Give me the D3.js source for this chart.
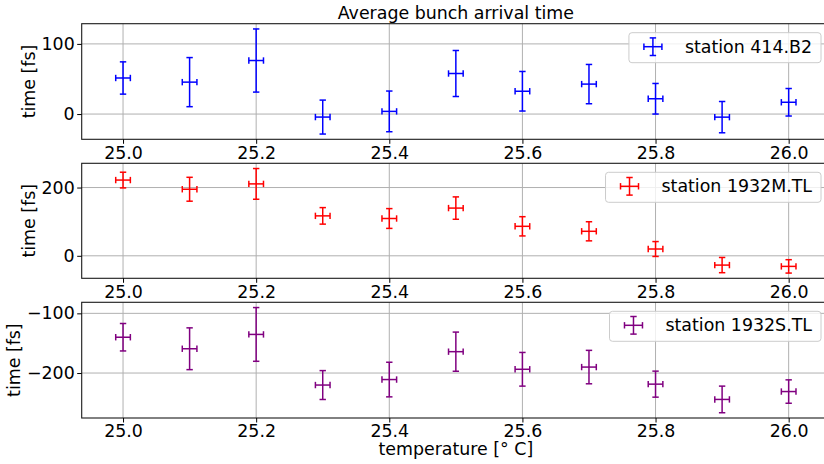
<!DOCTYPE html>
<html>
<head>
<meta charset="utf-8">
<script src="https://cdn.jsdelivr.net/npm/d3@7"></script>
<style>
  html, body { margin: 0; padding: 0; background: #fff; }
  svg { display: block; font-family: "DejaVu Sans", sans-serif; }
</style>
</head>
<body>
<svg id="chart" width="824" height="464"></svg>
<script>
// Temperature set points [°C] and their uncertainty
const temperature = [25.0, 25.1, 25.2, 25.3, 25.4, 25.5, 25.6, 25.7, 25.8, 25.9, 26.0];
const temperatureErr = 0.011;

// Average bunch arrival time per station [fs]
const station414B2 = [51.4, 45.5, 76.3, -4.3, 3.8, 57.8, 32.5, 42.7, 21.8, -4.4, 16.8];
const station1932M = [221.9, 195.0, 210.7, 117.0, 109.3, 139.8, 86.4, 71.8, 19.9, -27.2, -31.0];
const station1932S = [-140.0, -159.3, -135.3, -220.1, -210.9, -164.2, -193.7, -190.0, -218.6, -244.2, -231.0];

// Standard error of the arrival time [fs]
const arrivalErr = [23, 35, 45, 24.2, 29, 32.8, 28.2, 28, 21.8, 22.3, 19.6];

// Tick labels
const xTicks = [25.0, 25.2, 25.4, 25.6, 25.8, 26.0];
const yTicks414B2 = [0, 100];
const yTicks1932M = [0, 200];
const yTicks1932S = [-200, -100];

const panels = [
  { name: "station 414.B2",  values: station414B2, ticks: yTicks414B2, color: "#0000ff", top: 23.7,  bottom: 139.3 },
  { name: "station 1932M.TL", values: station1932M, ticks: yTicks1932M, color: "#ff0000", top: 163.3, bottom: 278.3 },
  { name: "station 1932S.TL", values: station1932S, ticks: yTicks1932S, color: "#800080", top: 302.3, bottom: 418.0 }
];

const svg = d3.select("#chart");
svg.append("rect").attr("width", 824).attr("height", 464).attr("fill", "#fff");

const left = 81.7, right = 830;
const fontSize = 17.4;

// autoscale with a 5% margin, like the plotting default
function padded(lo, hi) {
  const m = (hi - lo) * 0.05;
  return [lo - m, hi + m];
}

const x = d3.scaleLinear()
  .domain(padded(d3.min(temperature) - temperatureErr, d3.max(temperature) + temperatureErr))
  .range([left, right]);

const fmtX = d3.format(".1f");
const fmtY = d3.format("d");

panels.forEach(p => {
  const lo = d3.min(p.values, (v, i) => v - arrivalErr[i]);
  const hi = d3.max(p.values, (v, i) => v + arrivalErr[i]);
  const y = d3.scaleLinear().domain(padded(lo, hi)).range([p.bottom, p.top]);

  const g = svg.append("g");

  // grid
  g.append("g").selectAll("line").data(xTicks).join("line")
    .attr("x1", d => x(d)).attr("x2", d => x(d))
    .attr("y1", p.top).attr("y2", p.bottom)
    .attr("stroke", "#b0b0b0").attr("stroke-width", 1);
  g.append("g").selectAll("line").data(p.ticks).join("line")
    .attr("x1", left).attr("x2", right)
    .attr("y1", d => y(d)).attr("y2", d => y(d))
    .attr("stroke", "#b0b0b0").attr("stroke-width", 1);

  // error bars
  const pts = temperature.map((t, i) => ({ t, v: p.values[i], e: arrivalErr[i] }));
  const eb = g.append("g").attr("stroke", p.color).attr("stroke-width", 1.5).attr("fill", "none");
  const cap = 3.2;
  pts.forEach(d => {
    const cx = x(d.t), cy = y(d.v);
    const y0 = y(d.v - d.e), y1 = y(d.v + d.e);
    const x0 = x(d.t - temperatureErr), x1 = x(d.t + temperatureErr);
    eb.append("line").attr("x1", cx).attr("x2", cx).attr("y1", y0).attr("y2", y1);
    eb.append("line").attr("x1", x0).attr("x2", x1).attr("y1", cy).attr("y2", cy);
    eb.append("line").attr("x1", cx - cap).attr("x2", cx + cap).attr("y1", y0).attr("y2", y0);
    eb.append("line").attr("x1", cx - cap).attr("x2", cx + cap).attr("y1", y1).attr("y2", y1);
    eb.append("line").attr("x1", x0).attr("x2", x0).attr("y1", cy - cap).attr("y2", cy + cap);
    eb.append("line").attr("x1", x1).attr("x2", x1).attr("y1", cy - cap).attr("y2", cy + cap);
  });

  // frame
  g.append("rect")
    .attr("x", left).attr("y", p.top)
    .attr("width", right - left).attr("height", p.bottom - p.top)
    .attr("fill", "none").attr("stroke", "#1a1a1a").attr("stroke-width", 1.1);

  // axes
  const xAxis = g.append("g").attr("transform", `translate(0,${p.bottom})`)
    .call(d3.axisBottom(x).tickValues(xTicks).tickFormat(fmtX).tickSizeInner(4.5).tickSizeOuter(0).tickPadding(2.5));
  const yAxis = g.append("g").attr("transform", `translate(${left},0)`)
    .call(d3.axisLeft(y).tickValues(p.ticks).tickFormat(fmtY).tickSizeInner(4.5).tickSizeOuter(0).tickPadding(2.5));
  [xAxis, yAxis].forEach(a => {
    a.select(".domain").remove();
    a.selectAll("text").attr("font-family", "DejaVu Sans").attr("font-size", fontSize).attr("fill", "#000");
    a.selectAll("line").attr("stroke", "#000").attr("stroke-width", 1);
  });

  // y label placed just left of the tick labels
  const tb = yAxis.node().getBBox();
  const labelX = left + tb.x - 6.5;
  g.append("text")
    .attr("transform", `translate(${labelX},${(p.top + p.bottom) / 2}) rotate(-90)`)
    .attr("text-anchor", "middle")
    .attr("font-size", fontSize).attr("fill", "#000")
    .text("time [fs]");

  // legend
  const lg = g.append("g");
  const boxTop = p.top + 9;
  const box = lg.append("rect")
    .attr("y", boxTop).attr("height", 30).attr("rx", 3)
    .attr("fill", "#fff").attr("fill-opacity", 0.8)
    .attr("stroke", "#cccccc").attr("stroke-width", 1);
  const label = lg.append("text")
    .attr("y", boxTop + 19.8)
    .attr("font-size", fontSize).attr("fill", "#000")
    .text(p.name);
  const tw = label.node().getComputedTextLength();
  const boxRight = right - 9;
  const boxLeft = boxRight - (56 + tw + 9);
  box.attr("x", boxLeft).attr("width", boxRight - boxLeft);
  label.attr("x", boxLeft + 56);
  const mx = boxLeft + 24, my = boxTop + 14, hw = 9, hh = 8.8;
  const mk = lg.append("g").attr("stroke", p.color).attr("stroke-width", 1.5);
  mk.append("line").attr("x1", mx).attr("x2", mx).attr("y1", my - hh).attr("y2", my + hh);
  mk.append("line").attr("x1", mx - hw).attr("x2", mx + hw).attr("y1", my).attr("y2", my);
  mk.append("line").attr("x1", mx - cap).attr("x2", mx + cap).attr("y1", my - hh).attr("y2", my - hh);
  mk.append("line").attr("x1", mx - cap).attr("x2", mx + cap).attr("y1", my + hh).attr("y2", my + hh);
  mk.append("line").attr("x1", mx - hw).attr("x2", mx - hw).attr("y1", my - cap).attr("y2", my + cap);
  mk.append("line").attr("x1", mx + hw).attr("x2", mx + hw).attr("y1", my - cap).attr("y2", my + cap);
});

// title and shared x label
svg.append("text")
  .attr("x", (left + right) / 2).attr("y", 19)
  .attr("text-anchor", "middle").attr("font-size", fontSize).attr("fill", "#000")
  .text("Average bunch arrival time");
svg.append("text")
  .attr("x", (left + right) / 2).attr("y", 455)
  .attr("text-anchor", "middle").attr("font-size", fontSize).attr("fill", "#000")
  .text("temperature [° C]");
</script>
</body>
</html>
